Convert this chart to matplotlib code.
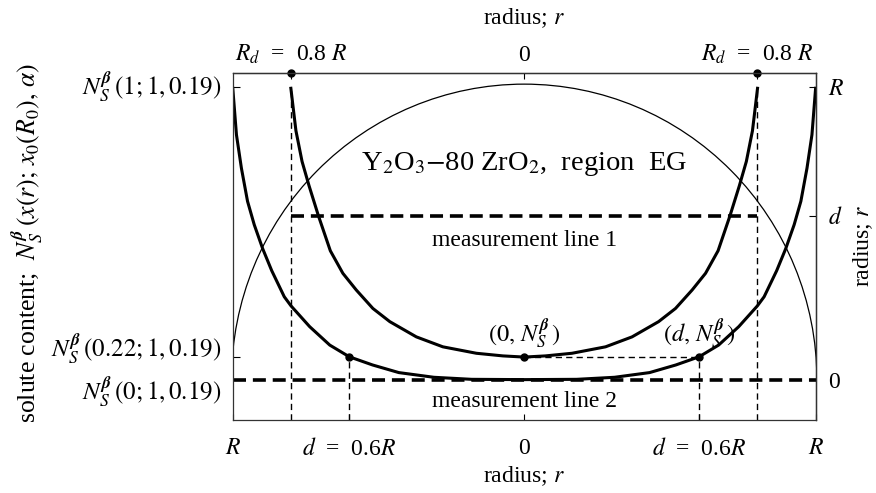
import matplotlib
matplotlib.use("Agg")
import matplotlib.pyplot as plt
import matplotlib.transforms as mtransforms
from matplotlib.patches import Arc
import numpy as np

plt.rcParams["font.family"] = "serif"
plt.rcParams["font.serif"] = ["Liberation Serif", "DejaVu Serif"]
plt.rcParams["mathtext.fontset"] = "stix"

# outer profile (full radius R), right half
xa_half = [0.0, 0.18, 0.31, 0.43, 0.52, 0.60, 0.667, 0.736, 0.80, 0.823,
           0.866, 0.897, 0.926, 0.949, 0.970, 0.987, 1.0]
ya_half = [0.0, 0.001, 0.008, 0.024, 0.050, 0.078, 0.118, 0.181, 0.252, 0.283,
           0.372, 0.447, 0.529, 0.609, 0.722, 0.836, 1.0]

# inner profile (R_d = 0.8 R), right half
xb_half = [0.0, 0.073, 0.164, 0.279, 0.370, 0.461, 0.519, 0.576, 0.622, 0.665,
           0.706, 0.738, 0.762, 0.783, 0.801]
yb_half = [0.077, 0.081, 0.090, 0.112, 0.146, 0.198, 0.243, 0.306, 0.363, 0.440,
           0.560, 0.662, 0.745, 0.850, 1.0]

# thin semicircle (radius profile)
circle_w = 1.004
circle_h = 1.009

R_d = 0.8
d_pos = 0.6
d_line = 0.56
N_mid = 0.078
y_top = 1.048

left_ticks = [1.0, N_mid, 0.0]
left_labels = [r"$N_S^{\boldsymbol{\beta}}\,(1; 1, 0.19)$",
               r"$N_S^{\boldsymbol{\beta}}\,(0.22; 1, 0.19)$",
               r"$N_S^{\boldsymbol{\beta}}\,(0; 1, 0.19)$"]
left_dy = [0, 6, -9]

bottom_ticks = [-1, -0.6, 0, 0.6, 1]
bottom_labels = [r"$R$", r"$d$  =  0.6$R$", "0", r"$d$  =  0.6$R$", r"$R$"]
top_ticks = [-0.8, 0, 0.8]
top_labels = [r"$R_d$  =  0.8 $R$", "0", r"$R_d$  =  0.8 $R$"]
right_ticks = [0, d_line, 1]
right_labels = ["0", r"$d$", r"$R$"]

xa = np.concatenate([-np.array(xa_half[::-1]), xa_half[1:]])
ya = np.concatenate([ya_half[::-1], ya_half[1:]])
xb = np.concatenate([-np.array(xb_half[::-1]), xb_half[1:]])
yb = np.concatenate([yb_half[::-1], yb_half[1:]])

fig = plt.figure(figsize=(8.76, 4.93), dpi=100)
ax = fig.add_axes([0.2656, 0.148, 0.6656, 0.7045])
ax.set_xlim(-1, 1)
ax.set_ylim(-0.138, y_top)

ax.add_patch(Arc((0, 0), 2 * circle_w, 2 * circle_h, theta1=0, theta2=180,
                 color="k", lw=0.9))
ax.plot(xa, ya, color="k", lw=2.2, solid_capstyle="butt")
ax.plot(xb, yb, color="k", lw=2.2, solid_capstyle="butt")

thick_dash = (0, (3.6, 1.9))
thin_dash = (0, (4.5, 3.0))
ax.plot([-R_d, R_d], [d_line, d_line], color="k", lw=2.6, ls=thick_dash)
ax.plot([-1, 1], [0, 0], color="k", lw=2.6, ls=thick_dash)
for xv in (-R_d, R_d):
    ax.plot([xv, xv], [-0.138, 1.0], color="k", lw=1.0, ls=thin_dash)
for xv in (-d_pos, d_pos):
    ax.plot([xv, xv], [-0.138, N_mid], color="k", lw=1.0, ls=thin_dash)
ax.plot([0, d_pos], [N_mid, N_mid], color="k", lw=1.0, ls=thin_dash)

ax.plot([-d_pos, 0, d_pos], [N_mid, N_mid, N_mid], "o", color="k", ms=5)
ax.plot([-R_d, R_d], [y_top, y_top], "o", color="k", ms=5, clip_on=False)

for sp in ax.spines.values():
    sp.set_linewidth(0.9)
    sp.set_color("#333333")

ax.set_xticks(bottom_ticks)
ax.set_xticklabels(bottom_labels)
ax.set_yticks(left_ticks)
ax.set_yticklabels([])
ax.tick_params(axis="x", direction="in", length=4, width=0.8, labelsize=17, pad=13)
ax.tick_params(axis="y", direction="in", length=5, width=0.8)
ax.set_xlabel(r"radius; $r$", fontsize=17, labelpad=3)

trans = mtransforms.blended_transform_factory(ax.transAxes, ax.transData)
for val, lab, dy in zip(left_ticks, left_labels, left_dy):
    ax.annotate(lab, xy=(0, val), xycoords=trans, xytext=(-8, dy),
                textcoords="offset points", ha="right", va="center", fontsize=18)

ax.set_ylabel(r"solute content;  $N_S^{\boldsymbol{\beta}}\,(x(r);\, x_0(R_0),\, \alpha)$",
              fontsize=18.5)
ax.yaxis.set_label_coords(-0.322, 0.51)

top = ax.secondary_xaxis("top")
top.set_xticks(top_ticks)
top.set_xticklabels(top_labels)
top.tick_params(direction="in", length=4, width=0.8, labelsize=17, pad=5)
top.set_xlabel(r"radius; $r$", fontsize=17, labelpad=13)
top.spines["top"].set_linewidth(0.9)

right = ax.secondary_yaxis("right")
right.set_yticks(right_ticks)
right.set_yticklabels(right_labels)
right.tick_params(direction="in", length=5, width=0.8, labelsize=17, pad=9)
right.set_ylabel(r"radius; $r$", fontsize=17, labelpad=5)
right.spines["right"].set_linewidth(0.9)

ax.text(0, 0.735, r"Y$_2$O$_3$$-$80 ZrO$_2$,  region  EG", fontsize=20.5,
        ha="center", va="center")
ax.annotate("measurement line 1", xy=(0, d_line), xytext=(0, -18),
            textcoords="offset points", ha="center", va="center", fontsize=17)
ax.annotate("measurement line 2", xy=(0, 0), xytext=(0, -16),
            textcoords="offset points", ha="center", va="center", fontsize=17)
ax.annotate(r"$(0,\, N_S^{\boldsymbol{\beta}}\,)$", xy=(0, N_mid), xytext=(0, 17),
            textcoords="offset points", ha="center", va="center", fontsize=17.5)
ax.annotate(r"$(d,\, N_S^{\boldsymbol{\beta}}\,)$", xy=(d_pos, N_mid), xytext=(0, 17),
            textcoords="offset points", ha="center", va="center", fontsize=17.5)

fig.savefig("out.png", dpi=100)
